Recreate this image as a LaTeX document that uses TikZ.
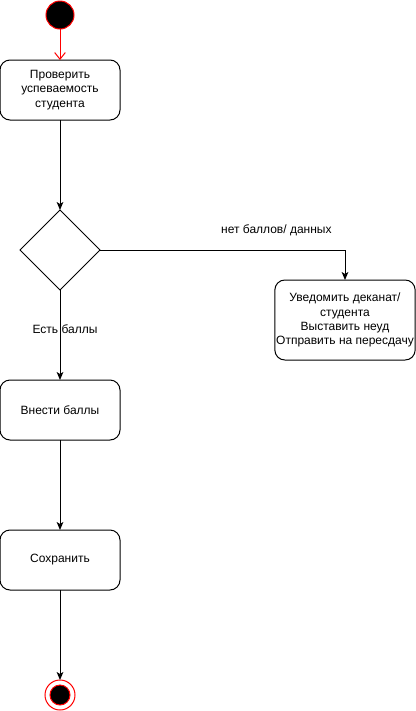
\documentclass[tikz,border=0pt]{standalone}
\usepackage{fontspec}
\setmainfont{Liberation Sans}
\usetikzlibrary{arrows.meta,positioning,shapes.geometric}
\definecolor{umlred}{HTML}{FF0000}

\begin{document}
\begin{tikzpicture}[x=0.75pt, y=-0.75pt,
  line width=0.75pt,
  every node/.style={outer sep=0pt},
  action/.style={draw, rounded corners=7.5pt, minimum width=90pt, minimum height=45pt, align=center, inner sep=1pt, font=\fontsize{9}{10.6}\selectfont},
  decision/.style={draw, diamond, aspect=1, minimum size=60pt, inner sep=0pt},
  startnode/.style={circle, draw=umlred, fill=black, minimum size=21pt, inner sep=0pt},
  endring/.style={circle, draw=umlred, minimum size=22.5pt, inner sep=0pt},
  enddot/.style={circle, draw=umlred, fill=black, minimum size=15pt, inner sep=0pt},
  lbl/.style={font=\fontsize{9}{10.6}\selectfont, inner sep=0pt},
  arr/.style={-{Stealth[length=6pt, width=5pt, inset=1.5pt]}},
  redarr/.style={umlred, -{Straight Barb[length=5pt, width=8pt]}}
]
  \useasboundingbox (0,0) rectangle (416,711);

  \node[startnode] (start) at (60,15) {};
  \node[action, below=23.25pt of start] (check) {Проверить\\успеваемость\\студента};
  \node[decision, below=67.5pt of check] (dec) {};
  \node[action, below=67.5pt of dec] (enter) {Внести баллы};
  \node[action, below=67.5pt of enter] (save) {Сохранить};
  \node[endring, below=67.5pt of save] (stop) {};
  \node[enddot] at (stop.center) (stopdot) {};

  \node[action, minimum width=105pt, minimum height=60pt] (notify) at (345,320) {Уведомить деканат/\\студента\\Выставить неуд\\Отправить на пересдачу};

  \draw[redarr] (start) -- (check);
  \draw[arr] (check) -- (dec);
  \draw[arr] (dec.east) -| node[lbl, pos=0.36, yshift=15pt] {нет баллов/ данных} (notify.north);
  \draw[arr] (dec) -- node[lbl, pos=0.43, xshift=3.75pt] {Есть баллы} (enter);
  \draw[arr] (enter) -- (save);
  \draw[arr] (save) -- (stop);
\end{tikzpicture}
\end{document}
